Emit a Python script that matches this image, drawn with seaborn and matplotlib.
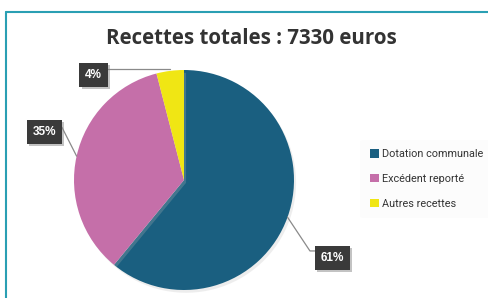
import numpy as np
import matplotlib
matplotlib.use("Agg")
import matplotlib.pyplot as plt
import matplotlib.patheffects as pe
from matplotlib.lines import Line2D
from matplotlib.patches import Patch
import seaborn as sns

# data
categories = ["Dotation communale", "Excédent reporté", "Autres recettes"]
values = [4470, 2565, 295]
pct_labels = ["61%", "35%", "4%"]
colors = ["#1a5f80", "#c56fa9", "#f0e614"]
title = "Recettes totales : 7330 euros"

sns.set_theme(style="white")
plt.rcParams["font.family"] = ["Open Sans", "DejaVu Sans"]

W, H = 489, 298
fig = plt.figure(figsize=(W / 100, H / 100), dpi=100)
fig.patch.set_facecolor("white")

# pie placed in pixel coords: center (184,180), radius 110
cx, cy, r = 184, 180, 110
ax = fig.add_axes([(cx - r) / W, (H - cy - r) / H, 2 * r / W, 2 * r / H])

wedges, _ = ax.pie(values, colors=colors, startangle=90, counterclock=False,
                   radius=1, wedgeprops=dict(linewidth=0))
ax.set_xlim(-1, 1)
ax.set_ylim(-1, 1)
ax.axis("off")
for w in wedges:
    w.set_path_effects([pe.SimplePatchShadow(offset=(1.5, -2), shadow_rgbFace="#bbbbbb", alpha=0.25),
                        pe.Normal()])

# label boxes (box center, elbow point) in data units
box_pos = [(1.35, -0.71), (-1.27, 0.44), (-0.82, 0.955)]
elbows = [(1.145, -0.645), None, (-0.70, 1.01)]
box_edge = [(1.21, -0.645), (-1.11, 0.48), (-0.70, 1.01)]
for w, lab, bp, el, be in zip(wedges, pct_labels, box_pos, elbows, box_edge):
    ang = np.deg2rad((w.theta1 + w.theta2) / 2)
    ax_pt = (np.cos(ang), np.sin(ang))
    if lab == "4%":
        ax_pt = (ax_pt[0], 1.01)
    pts = [ax_pt] + ([el] if el else []) + [be]
    xs, ys = zip(*pts)
    ax.plot(xs, ys, color="#8a8a8a", lw=0.9, clip_on=False, zorder=1)
    t = ax.text(bp[0], bp[1], lab, ha="center", va="center", color="white",
                fontsize=8.5, fontweight="bold", family=["Liberation Sans", "DejaVu Sans"],
                bbox=dict(boxstyle="square,pad=0.5", fc="#3a3a3a", ec="none"),
                clip_on=False, zorder=5)
    t.get_bbox_patch().set_path_effects([
        pe.SimplePatchShadow(offset=(1.5, -1.5), shadow_rgbFace="#888888", alpha=0.5),
        pe.Normal()])

# title
fig.text(251 / W, 1 - 38 / H, title, ha="center", va="center",
         fontsize=14.8, fontweight="bold", color="#333333")

# legend
handles = [Patch(facecolor=c, edgecolor="none") for c in colors]
leg = fig.legend(handles, categories, loc="center left",
                 bbox_to_anchor=(355 / W, 1 - 179 / H), frameon=True,
                 prop={"family": "Roboto", "size": 7.8}, labelcolor="#333333",
                 handlelength=0.8, handleheight=0.8, handletextpad=0.3,
                 labelspacing=1.35, borderpad=0.9)
leg.get_frame().set_facecolor("#fcfcfc")
leg.get_frame().set_edgecolor("none")

# teal frame
frame_c = "#2a9fb3"
fig.add_artist(Line2D([6.5 / W, 6.5 / W], [0, 1 - 12 / H], transform=fig.transFigure,
                      color=frame_c, lw=1.5))
fig.add_artist(Line2D([6.5 / W, 1], [1 - 12 / H, 1 - 12 / H], transform=fig.transFigure,
                      color=frame_c, lw=1.5))

fig.savefig("out.png", dpi=100, facecolor="white")
